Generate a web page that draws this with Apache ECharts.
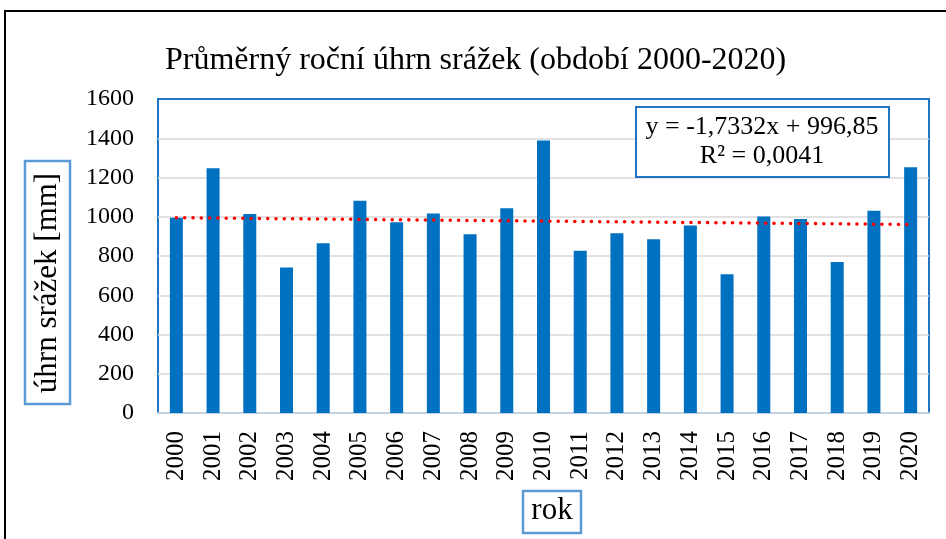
<!DOCTYPE html>
<html>
<head>
<meta charset="utf-8">
<script src="https://cdn.jsdelivr.net/npm/echarts@6/dist/echarts.min.js"></script>
<style>
  html, body { margin: 0; padding: 0; background: #fff; }
  #chart { width: 946px; height: 539px; }
</style>
</head>
<body>
<div id="chart"></div>
<script>
// roky a průměrné roční srážky [mm]
const years = ['2000', '2001', '2002', '2003', '2004', '2005', '2006', '2007', '2008', '2009', '2010',
  '2011', '2012', '2013', '2014', '2015', '2016', '2017', '2018', '2019', '2020'];
const rainfall = [995, 1247, 1014, 742, 865, 1082, 972, 1016, 911, 1043, 1388,
  827, 916, 885, 955, 707, 1001, 989, 770, 1031, 1252];
// lineární trend – hodnoty na začátku a konci období
const trendEnds = [995.1, 960.5];
const yTicks = { min: 0, max: 1600, step: 200 };
const trendLabel = ['y = -1,7332x + 996,85', 'R² = 0,0041'];

const trend = years.map((y, i) => i === 0 ? trendEnds[0] : (i === years.length - 1 ? trendEnds[1] : null));

const serif = 'Liberation Serif';
const chart = echarts.init(document.getElementById('chart'));

chart.setOption({
  animation: false,
  title: {
    text: 'Průměrný roční úhrn srážek (období 2000-2020)',
    left: 165,
    top: 45,
    padding: 0,
    textStyle: { fontFamily: serif, fontSize: 32, fontWeight: 'normal', color: '#000' }
  },
  grid: {
    left: 158, right: 17, top: 99, bottom: 126,
    show: true, borderColor: '#1f74c4', borderWidth: 2
  },
  xAxis: {
    type: 'category',
    data: years,
    axisLine: { show: true, lineStyle: { color: '#c3d3e3', width: 2 } },
    axisTick: { show: false },
    axisLabel: { rotate: 90, margin: 18, fontFamily: serif, fontSize: 25, color: '#000' }
  },
  yAxis: {
    type: 'value',
    min: yTicks.min, max: yTicks.max, interval: yTicks.step,
    axisLine: { show: false },
    axisTick: { show: false },
    axisLabel: { margin: 24, fontFamily: serif, fontSize: 24, color: '#000', formatter: v => String(v) },
    splitLine: { showMaxLine: false, showMinLine: false, lineStyle: { color: '#d9d9d9', width: 1.5 } }
  },
  series: [
    {
      type: 'bar',
      data: rainfall,
      barWidth: 13,
      itemStyle: { color: '#0070c0' }
    },
    {
      type: 'line',
      data: trend,
      connectNulls: true,
      symbol: 'none',
      lineStyle: { color: '#ff0000', width: 3.5, type: [0.1, 8.2], cap: 'round' },
      z: 3
    }
  ],
  graphic: [
    {
      type: 'rect', silent: true, z: 0,
      shape: { x: 5, y: 11, width: 980, height: 600 },
      style: { fill: 'none', stroke: '#000', lineWidth: 2 }
    },
    {
      type: 'rect', z: 10,
      shape: { x: 636, y: 107, width: 253, height: 70 },
      style: { fill: '#fff', stroke: '#1f74c4', lineWidth: 2 }
    },
    {
      type: 'text', z: 11, x: 762, y: 142,
      style: {
        text: trendLabel.join('\n'), fontFamily: serif, fontSize: 26, lineHeight: 29,
        align: 'center', verticalAlign: 'middle', fill: '#000'
      }
    },
    {
      type: 'rect', z: 10,
      shape: { x: 25, y: 161, width: 45, height: 243 },
      style: { fill: '#fff', stroke: '#5b9bd5', lineWidth: 2.5 }
    },
    {
      type: 'text', z: 11, x: 48, y: 283, rotation: Math.PI / 2,
      style: {
        text: 'úhrn srážek [mm]', fontFamily: serif, fontSize: 31,
        align: 'center', verticalAlign: 'middle', fill: '#000'
      }
    },
    {
      type: 'rect', z: 10,
      shape: { x: 523, y: 491, width: 58, height: 42 },
      style: { fill: '#fff', stroke: '#5b9bd5', lineWidth: 2.5 }
    },
    {
      type: 'text', z: 11, x: 552, y: 511,
      style: {
        text: 'rok', fontFamily: serif, fontSize: 31,
        align: 'center', verticalAlign: 'middle', fill: '#000'
      }
    }
  ]
});
</script>
</body>
</html>
